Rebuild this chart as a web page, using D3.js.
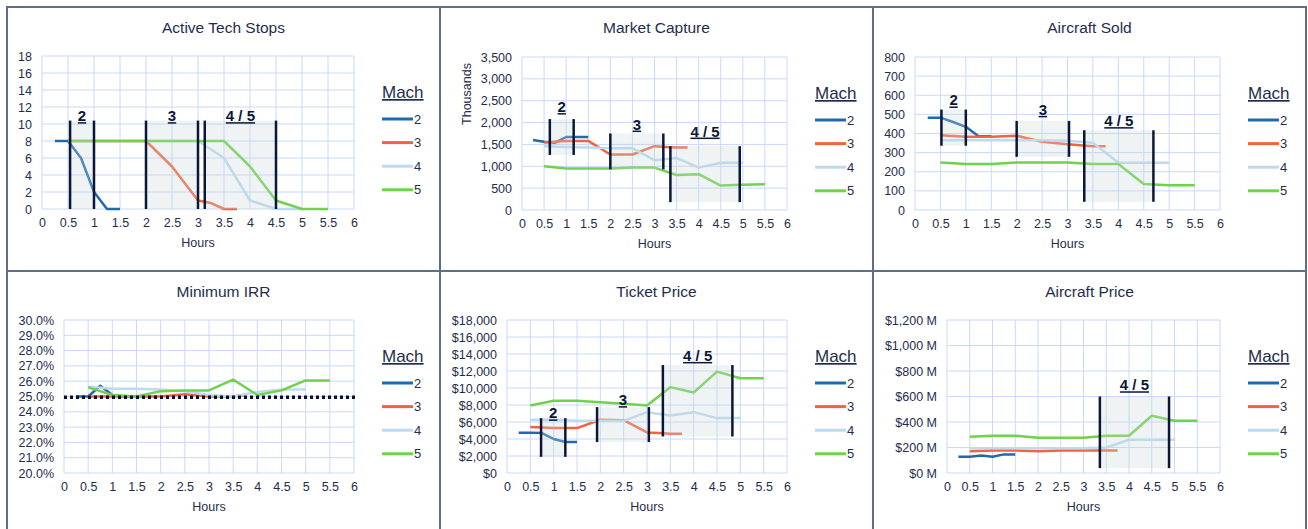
<!DOCTYPE html>
<html>
<head>
<meta charset="utf-8">
<script src="https://cdn.jsdelivr.net/npm/d3@7"></script>
<style>
  body { margin: 0; background: #fff; }
  text { font-family: "Liberation Sans", Arial, sans-serif; fill: #1f2d4c; }
</style>
</head>
<body>
<div id="chart"></div>
<script>
// ---- data ----
var machs = ["2", "3", "4", "5"];
var machColors = ["#2169ad", "#f4623f", "#bcdaf0", "#6fd24a"];

var hours2 = [0.25, 0.5, 0.75, 1, 1.25, 1.5];
var hours3 = [0.5, 1, 1.5, 2, 2.5, 3, 3.25, 3.5, 3.75];
var hours4 = [0.5, 1, 1.5, 2, 2.5, 3, 3.5, 4, 4.5, 5];
var hours5 = [0.5, 1, 1.5, 2, 2.5, 3, 3.5, 4, 4.5, 5, 5.5];
var hourTicks = [0, 0.5, 1, 1.5, 2, 2.5, 3, 3.5, 4, 4.5, 5, 5.5, 6];

var techStops2 = [8, 8, 6, 2, 0, 0];
var techStops3 = [8, 8, 8, 8, 5, 1, 0.7, 0, 0];
var techStops4 = [8, 8, 8, 8, 8, 8, 6, 1, 0, 0];
var techStops5 = [8, 8, 8, 8, 8, 8, 8, 5, 1, 0, 0];

var market2 = [1600, 1560, 1540, 1670, 1670, 1670];
var market3 = [1545, 1580, 1580, 1270, 1270, 1460, 1440, 1430, 1430];
var market4 = [1460, 1440, 1430, 1410, 1410, 1140, 1190, 970, 1080, 1080];
var market5 = [1000, 950, 950, 950, 970, 970, 800, 820, 560, 580, 590];

var sold2 = [483, 483, 460, 435, 386, 386];
var sold3 = [391, 383, 383, 388, 357, 344, 338, 333, 333];
var sold4 = [365, 365, 365, 365, 365, 362, 352, 247, 247, 247];
var sold5 = [249, 240, 240, 249, 249, 249, 240, 240, 136, 130, 130];

var irr2 = [25.0, 25.0, 25.7, 25.1, 25.0, 25.0];
var irr3 = [25.0, 25.0, 25.0, 25.0, 25.15, 25.0, 25.0, 25.0, 25.1];
var irr4 = [25.65, 25.5, 25.5, 25.45, 25.35, 25.1, 25.0, 25.3, 25.45, 25.45];
var irr5 = [25.6, 25.1, 25.0, 25.35, 25.4, 25.4, 26.1, 25.1, 25.4, 26.05, 26.05];
var irrLimitHours = [0, 6.06];
var irrLimit = 24.95;

var ticket2 = [4750, 4750, 4700, 4000, 3650, 3650];
var ticket3 = [5400, 5280, 5280, 6260, 6220, 4770, 4700, 4620, 4620];
var ticket4 = [6260, 6260, 6140, 6140, 6140, 7160, 6770, 7160, 6460, 6460];
var ticket5 = [7940, 8490, 8490, 8330, 8140, 7940, 10100, 9470, 11930, 11150, 11150];

var price2 = [128, 128, 138, 128, 146, 146];
var price3 = [170, 177, 177, 170, 177, 177, 177, 177, 177];
var price4 = [195, 195, 195, 195, 195, 195, 200, 261, 261, 261];
var price5 = [284, 292, 292, 277, 277, 277, 292, 292, 449, 410, 410];

// speed bands: label, hour from, hour to, value bottom, value top, label value
var techRegions = [["2", 0.54, 1.0, 0, 10.4, 10.95], ["3", 2.0, 3.0, 0, 10.4, 10.95], ["4 / 5", 3.13, 4.5, 0, 10.4, 10.95]];
var marketRegions = [["2", 0.63, 1.17, 1260, 2080, 2360], ["3", 2.0, 3.2, 930, 1750, 1960], ["4 / 5", 3.36, 4.93, 180, 1460, 1800]];
var soldRegions = [["2", 0.52, 1.0, 336, 525, 574], ["3", 2.0, 3.03, 278, 466, 525], ["4 / 5", 3.33, 4.69, 43, 417, 466]];
var ticketRegions = [["2", 0.73, 1.25, 1900, 6450, 7040], ["3", 1.93, 3.04, 3640, 7750, 8600], ["4 / 5", 3.34, 4.83, 4300, 12700, 13800]];
var priceRegions = [["4 / 5", 3.36, 4.88, 38, 600, 690]];

// ---- page ----
var W = 1308, H = 529;
var svg = d3.select("#chart").append("svg")
  .attr("width", W).attr("height", H);

var money = d3.format(",");

var panels = [
  { px: 7, py: 7, pr: 440, left: 42, top: 56, bottom: 209, title: "Active Tech Stops",
    domain: [0, 18], step: 2, fmt: d3.format("d"),
    values: [techStops2, techStops3, techStops4, techStops5], regions: techRegions },
  { px: 440, py: 7, pr: 873, left: 522, top: 57, bottom: 210, title: "Market Capture",
    domain: [0, 3500], step: 500, fmt: money, ylabel: "Thousands",
    values: [market2, market3, market4, market5], regions: marketRegions },
  { px: 873, py: 7, pr: 1306, left: 915, top: 57, bottom: 210, title: "Aircraft Sold",
    domain: [0, 800], step: 100, fmt: d3.format("d"),
    values: [sold2, sold3, sold4, sold5], regions: soldRegions },
  { px: 7, py: 271, pr: 440, left: 64, top: 320, bottom: 473, title: "Minimum IRR",
    domain: [20, 30], step: 1, fmt: function (v) { return v.toFixed(1) + "%"; },
    values: [irr2, irr3, irr4, irr5], regions: [], limit: true },
  { px: 440, py: 271, pr: 873, left: 507, top: 320, bottom: 473, title: "Ticket Price",
    domain: [0, 18000], step: 2000, fmt: function (v) { return "$" + money(v); },
    values: [ticket2, ticket3, ticket4, ticket5], regions: ticketRegions },
  { px: 873, py: 271, pr: 1306, left: 947, top: 320, bottom: 473, title: "Aircraft Price",
    domain: [0, 1200], step: 200, fmt: function (v) { return "$" + money(v) + " M"; },
    values: [price2, price3, price4, price5], regions: priceRegions }
];

var seriesHours = [hours2, hours3, hours4, hours5];

panels.forEach(function (p) {
  var right = p.pr - 86;
  var g = svg.append("g");

  var x = d3.scaleLinear().domain([0, 6]).range([p.left, right]);
  var y = d3.scaleLinear().domain(p.domain).range([p.bottom, p.top]);
  var yTicks = d3.range(p.domain[0], p.domain[1] + p.step / 2, p.step);

  // title
  g.append("text")
    .attr("x", (p.px + p.pr) / 2).attr("y", p.py + 26)
    .attr("text-anchor", "middle")
    .style("font-size", "15.5px")
    .text(p.title);

  // grid
  g.append("g").selectAll("line.v").data(hourTicks).enter().append("line")
    .attr("x1", function (d) { return x(d); }).attr("x2", function (d) { return x(d); })
    .attr("y1", p.top).attr("y2", p.bottom)
    .attr("stroke", "#c8d9fb").attr("stroke-width", 1);
  g.append("g").selectAll("line.h").data(yTicks).enter().append("line")
    .attr("x1", p.left).attr("x2", right)
    .attr("y1", function (d) { return y(d); }).attr("y2", function (d) { return y(d); })
    .attr("stroke", "#c8d9fb").attr("stroke-width", 1);

  // axes
  var xa = g.append("g")
    .attr("transform", "translate(0," + p.bottom + ")")
    .call(d3.axisBottom(x).tickValues(hourTicks).tickSize(0).tickPadding(9).tickFormat(d3.format("")));
  xa.select(".domain").remove();
  xa.selectAll("text").style("font-size", "12.5px");

  var ya = g.append("g")
    .attr("transform", "translate(" + p.left + ",0)")
    .call(d3.axisLeft(y).tickValues(yTicks).tickSize(0).tickPadding(10).tickFormat(p.fmt));
  ya.select(".domain").remove();
  ya.selectAll("text").style("font-size", "12.5px");

  g.append("text")
    .attr("x", (p.left + right) / 2).attr("y", p.bottom + 38)
    .attr("text-anchor", "middle")
    .style("font-size", "12.5px")
    .text("Hours");

  if (p.ylabel) {
    g.append("text")
      .attr("transform", "translate(" + (p.px + 31) + "," + (p.top + 37) + ") rotate(-90)")
      .attr("text-anchor", "middle")
      .style("font-size", "12.5px")
      .text(p.ylabel);
  }

  // series
  var line = d3.line()
    .x(function (d) { return x(d[0]); })
    .y(function (d) { return y(d[1]); });

  p.values.forEach(function (vals, i) {
    g.append("path")
      .datum(d3.zip(seriesHours[i], vals))
      .attr("d", line)
      .attr("fill", "none")
      .attr("stroke", machColors[i])
      .attr("stroke-width", 2.5)
      .attr("stroke-linejoin", "round");
  });

  // speed bands
  p.regions.forEach(function (r) {
    g.append("rect")
      .attr("x", x(r[1])).attr("width", x(r[2]) - x(r[1]))
      .attr("y", y(r[4])).attr("height", y(r[3]) - y(r[4]))
      .attr("fill", "#c9d6dc").attr("fill-opacity", 0.3);
    [r[1], r[2]].forEach(function (h) {
      g.append("line")
        .attr("x1", x(h)).attr("x2", x(h))
        .attr("y1", y(r[3])).attr("y2", y(r[4]))
        .attr("stroke", "#0b1736").attr("stroke-width", 2.5);
    });
    g.append("text")
      .attr("x", x((r[1] + r[2]) / 2)).attr("y", y(r[5]))
      .attr("dy", "0.35em")
      .attr("text-anchor", "middle")
      .style("font-size", "15px").style("font-weight", "bold")
      .style("text-decoration", "underline")
      .style("fill", "#0b1736")
      .text(r[0]);
  });

  if (p.limit) {
    g.append("line")
      .attr("x1", x(irrLimitHours[0])).attr("x2", x(irrLimitHours[1]))
      .attr("y1", y(irrLimit)).attr("y2", y(irrLimit))
      .attr("stroke", "#0a0f2a").attr("stroke-width", 3.5)
      .attr("stroke-dasharray", "3,3");
  }

  // legend
  var lx = p.pr - 58;
  g.append("text")
    .attr("x", lx).attr("y", p.top + 42)
    .style("font-size", "17px")
    .style("text-decoration", "underline")
    .text("Mach");
  var leg = g.append("g").selectAll("g").data(machs).enter().append("g")
    .attr("transform", function (d, i) { return "translate(0," + (p.top + 63 + i * 23.6) + ")"; });
  leg.append("line")
    .attr("x1", lx).attr("x2", p.pr - 27)
    .attr("stroke", function (d, i) { return machColors[i]; })
    .attr("stroke-width", 3);
  leg.append("text")
    .attr("x", p.pr - 26).attr("dy", "0.35em")
    .style("font-size", "13px")
    .text(function (d) { return d; });
});

// panel frames
var frame = svg.append("g").attr("fill", "none").attr("stroke", "#5f6d86").attr("stroke-width", 2);
frame.append("rect").attr("x", 7).attr("y", 7).attr("width", 1299).attr("height", 540);
[440, 873].forEach(function (v) {
  frame.append("line").attr("x1", v).attr("x2", v).attr("y1", 7).attr("y2", H);
});
frame.append("line").attr("x1", 7).attr("x2", 1306).attr("y1", 271).attr("y2", 271);
</script>
</body>
</html>
